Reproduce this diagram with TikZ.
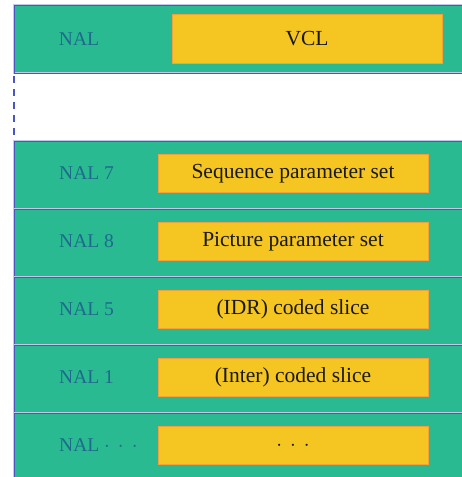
\documentclass[tikz,border=0pt]{standalone}
\usepackage{fontspec}
\setmainfont{Liberation Serif}
\definecolor{rowgreen}{HTML}{2ABA91}
\definecolor{boxyellow}{HTML}{F5C521}
\definecolor{boxedge}{HTML}{F2A23A}
\definecolor{edgeblue}{HTML}{4A55C4}
\definecolor{halo}{HTML}{C4C7EE}
\definecolor{labelblue}{HTML}{1D6A8C}
\begin{document}
\begin{tikzpicture}[x=1pt,y=-1pt,
  payload/.style={fill=boxyellow,draw=boxedge,line width=0.9pt,minimum width=270pt,minimum height=38pt,inner sep=0pt,font=\fontsize{21.5}{24}\selectfont,text=black!90},
  nallabel/.style={anchor=west,text=labelblue,inner sep=0pt,font=\fontsize{19.5}{22}\selectfont}]
\useasboundingbox (0,0) rectangle (462,477);
% top NAL/VCL band
\fill[rowgreen] (14,5) rectangle (470,73);
\draw[halo,line width=1.8pt] (470,5) -- (14,5) -- (14,73) -- (470,73);
\draw[edgeblue,line width=0.8pt] (470,5) -- (14,5) -- (14,73) -- (470,73);
\node[text=labelblue,font=\fontsize{19.5}{22}\selectfont] (nal) at (79,39) {NAL};
\node[payload,minimum width=270pt,minimum height=49pt] (vcl) at (307,38.5) {VCL};
% dashed link
\coordinate (d1) at (14,73);
\coordinate (d2) at (14,141);
\draw[edgeblue,line width=1.2pt,dash pattern=on 7pt off 6pt,dash phase=-3pt] (d1) -- (d2);
% rows
\foreach \t/\lab/\txt/\nm in {141/NAL 7/Sequence parameter set/r7,
  209/NAL 8/Picture parameter set/r8,
  277/NAL 5/(IDR) coded slice/r5,
  345/NAL 1/(Inter) coded slice/r1,
  413/NAL\ $\cdot\,\cdot\,\cdot$/$\cdot\,\cdot\,\cdot$/rx}{
  \fill[rowgreen] (14,\t) rectangle (470,\t+68);
  \draw[halo,line width=1.8pt] (470,\t) -- (14,\t) -- (14,\t+68);
  \draw[edgeblue,line width=0.8pt] (470,\t) -- (14,\t) -- (14,\t+68);
  \node[nallabel] (l\nm) at (59,\t+32) {\lab};
  \node[payload] (b\nm) at (293,\t+32.5) {\txt};
}
\end{tikzpicture}
\end{document}
